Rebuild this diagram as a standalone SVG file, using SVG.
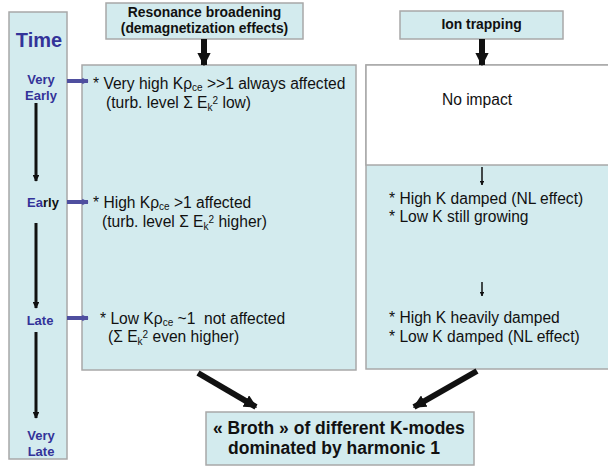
<svg xmlns="http://www.w3.org/2000/svg" width="608" height="468" viewBox="0 0 608 468">
<style>
.box{fill:#d3ebee;stroke:#a8a8a8;stroke-width:1.5}
.wbox{fill:#ffffff;stroke:#a8a8a8;stroke-width:1.5}
.t{font-family:"Liberation Sans",Arial,sans-serif;font-size:15.6px;fill:#111}
.hb{font-family:"Liberation Sans",Arial,sans-serif;font-size:13.9px;font-weight:bold;fill:#111}
.bb{font-family:"Liberation Sans",Arial,sans-serif;font-size:17.5px;font-weight:bold;fill:#111}
.tm{font-family:"Liberation Sans",Arial,sans-serif;font-size:13px;font-weight:bold;fill:#333399}
.sub{font-size:10px}
.conn{stroke:#111;fill:none}
.blue{stroke:#4f4f9f;stroke-width:4;fill:none}
</style>
<defs>
<marker id="ah" viewBox="0 0 10 10" refX="9" refY="5" markerWidth="2.2" markerHeight="2.2" markerUnits="strokeWidth" orient="auto">
<path d="M0,0 L10,5 L0,10 Z" fill="#111"/>
</marker>
<marker id="ahs" viewBox="0 0 10 10" refX="9" refY="5" markerWidth="3" markerHeight="3" markerUnits="strokeWidth" orient="auto">
<path d="M0,0 L10,5 L0,10 Z" fill="#111"/>
</marker>
<marker id="ahb" viewBox="0 0 10 10" refX="9" refY="5" markerWidth="1.6" markerHeight="2" markerUnits="strokeWidth" orient="auto">
<path d="M0,0 L10,5 L0,10 Z" fill="#4f4f9f"/>
</marker>
</defs>

<g id="time">
<rect class="box" x="9" y="12" width="58" height="447"/>
<text x="39" y="47" text-anchor="middle" style="font-family:'Liberation Sans',Arial,sans-serif;font-size:20px;font-weight:bold;fill:#333399">Time</text>
<text class="tm" x="41" y="84" text-anchor="middle">Very</text>
<text class="tm" x="41" y="100" text-anchor="middle">Early</text>
<text class="tm" x="43" y="207" text-anchor="middle">Ea<tspan fill="#111">rly</tspan></text>
<text class="tm" x="40" y="325" text-anchor="middle">Late</text>
<text class="tm" x="41" y="440" text-anchor="middle">Very</text>
<text class="tm" x="41" y="456" text-anchor="middle">Late</text>
</g>

<g id="resonance">
<rect class="box" x="106" y="3" width="197" height="36"/>
<text class="hb" x="204.5" y="17" text-anchor="middle">Resonance broadening</text>
<text class="hb" x="204.5" y="33" text-anchor="middle">(demagnetization effects)</text>
</g>

<g id="iontrap">
<rect class="box" x="400" y="11" width="163" height="28"/>
<text class="hb" x="481.5" y="29" text-anchor="middle">Ion trapping</text>
</g>

<g id="leftbox">
<rect class="box" x="82" y="65" width="274" height="305"/>
<text class="t" x="93" y="89">* Very high K&#961;<tspan class="sub" dy="2">ce</tspan><tspan dy="-2"> &gt;&gt;1 always affected</tspan></text>
<text class="t" x="106" y="108">(turb. level &#931; E<tspan class="sub" dy="3">k</tspan><tspan class="sub" dy="-7">2</tspan><tspan dy="4"> low)</tspan></text>
<text class="t" x="93" y="208">* High K&#961;<tspan class="sub" dy="2">ce</tspan><tspan dy="-2"> &gt;1 affected</tspan></text>
<text class="t" x="102" y="227">(turb. level &#931; E<tspan class="sub" dy="3">k</tspan><tspan class="sub" dy="-7">2</tspan><tspan dy="4"> higher)</tspan></text>
<text class="t" x="100" y="324">* Low K&#961;<tspan class="sub" dy="2">ce</tspan><tspan dy="-2"> ~1 &#160;not affected</tspan></text>
<text class="t" x="108" y="342">(&#931; E<tspan class="sub" dy="3">k</tspan><tspan class="sub" dy="-7">2</tspan><tspan dy="4"> even higher)</tspan></text>
</g>

<g id="rightbox">
<rect class="box" x="366" y="65" width="250" height="304"/>
<rect class="wbox" x="366" y="65" width="250" height="100"/>
<text class="t" x="477" y="105" text-anchor="middle">No impact</text>
<text class="t" x="389" y="204">* High K damped (NL effect)</text>
<text class="t" x="389" y="222">* Low K still growing</text>
<text class="t" x="389" y="323">* High K heavily damped</text>
<text class="t" x="389" y="342">* Low K damped (NL effect)</text>
</g>

<g id="broth">
<rect class="box" x="206" y="412" width="268" height="53"/>
<text class="bb" x="213" y="434">« Broth » of different K-modes</text>
<text class="bb" x="228" y="454">dominated by harmonic 1</text>
</g>

<g id="connectors">
<line class="conn" x1="204" y1="39" x2="204" y2="65" stroke-width="6" marker-end="url(#ah)"/>
<line class="conn" x1="482" y1="39" x2="482" y2="65" stroke-width="6" marker-end="url(#ah)"/>
<line class="conn" x1="482" y1="167" x2="482" y2="185" stroke-width="1.5" marker-end="url(#ahs)"/>
<line class="conn" x1="482" y1="282" x2="482" y2="296" stroke-width="1.5" marker-end="url(#ahs)"/>
<line class="conn" x1="36" y1="103" x2="36" y2="181" stroke-width="3" marker-end="url(#ah)"/>
<line class="conn" x1="36" y1="223" x2="36" y2="308" stroke-width="3" marker-end="url(#ah)"/>
<line class="conn" x1="36" y1="332" x2="36" y2="418" stroke-width="3" marker-end="url(#ah)"/>
<line class="blue" x1="67" y1="81" x2="88" y2="81" marker-end="url(#ahb)"/>
<line class="blue" x1="67" y1="202" x2="88" y2="202" marker-end="url(#ahb)"/>
<line class="blue" x1="67" y1="318" x2="88" y2="318" marker-end="url(#ahb)"/>
<line class="conn" x1="198" y1="373" x2="256" y2="407" stroke-width="6" marker-end="url(#ah)"/>
<line class="conn" x1="477" y1="371" x2="414" y2="407" stroke-width="6" marker-end="url(#ah)"/>
</g>
</svg>
